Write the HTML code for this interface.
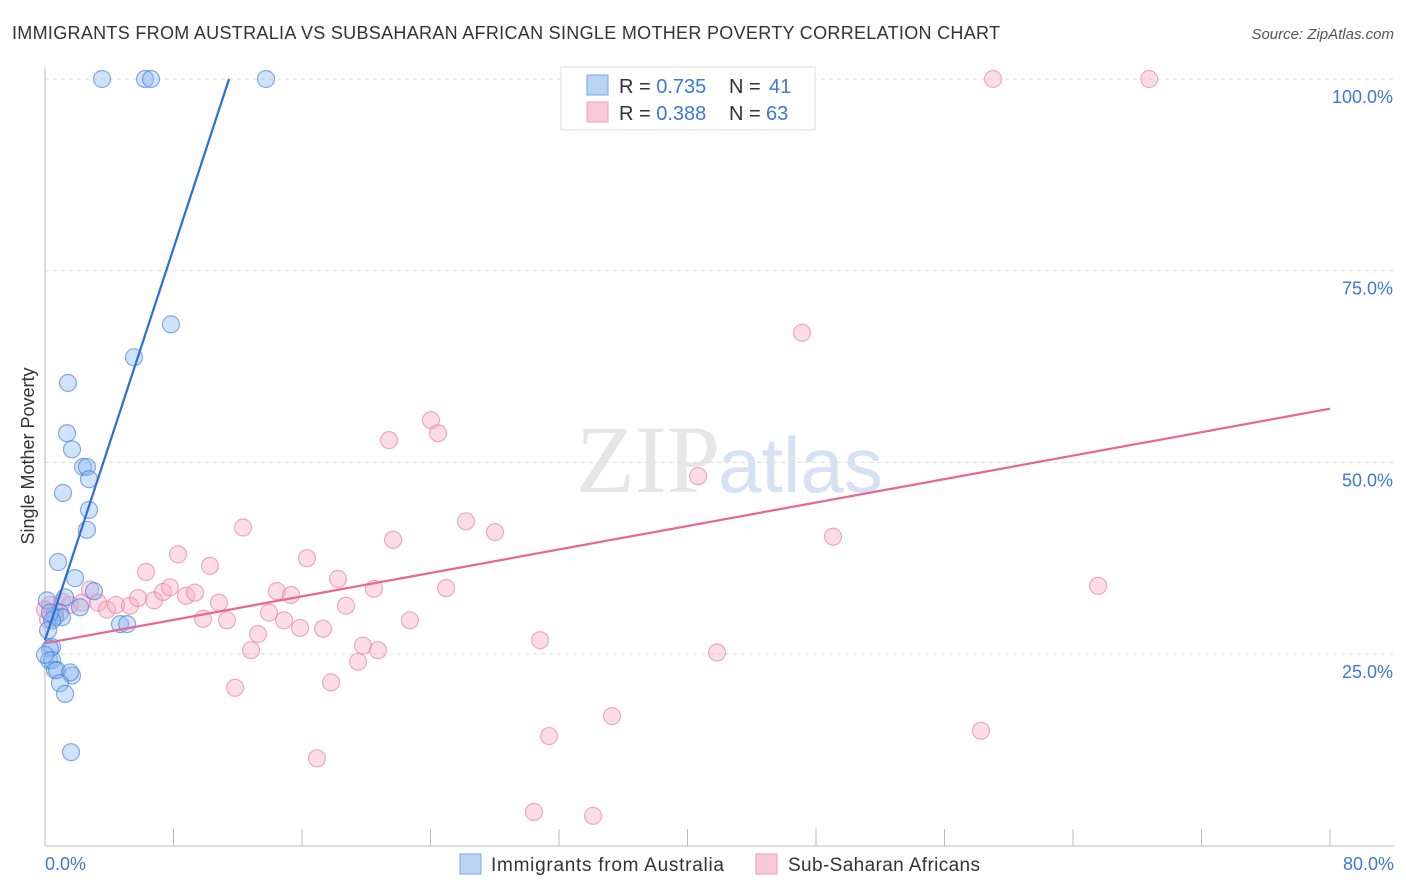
<!DOCTYPE html>
<html><head><meta charset="utf-8"><style>
body{margin:0;background:#fff;font-family:"Liberation Sans",sans-serif;}
svg{display:block}
</style></head><body>
<svg id="chart" width="1406" height="892" xmlns="http://www.w3.org/2000/svg">
<text x="12" y="39" font-size="18" fill="#333" textLength="988">IMMIGRANTS FROM AUSTRALIA VS SUBSAHARAN AFRICAN SINGLE MOTHER POVERTY CORRELATION CHART</text>
<text x="1394" y="39" font-size="15" fill="#555" font-style="italic" text-anchor="end">Source: ZipAtlas.com</text>
<text x="720" y="492" font-size="96" fill="#e6e6e6" text-anchor="end" font-family="Liberation Serif,serif">ZIP</text>
<text x="718" y="492" font-size="78" fill="#d6e2f3">atlas</text>
<g id="grid"></g>
<line x1="45" y1="68" x2="45" y2="846" stroke="#bbb"/>
<line x1="45" y1="846" x2="1394" y2="846" stroke="#bbb"/>
<text transform="translate(34,456) rotate(-90)" font-size="18" fill="#333" text-anchor="middle">Single Mother Poverty</text>
<text x="45" y="870" font-size="18" fill="#3d78d8">0.0%</text>
<text x="1394" y="870" font-size="18" fill="#3d78d8" text-anchor="end">80.0%</text>
<g id="pts"></g>
<g id="lines"></g>
<g>
<rect x="561" y="67" width="254" height="63" fill="#fff" stroke="#ddd"/>
<rect x="587" y="75" width="21" height="20" fill="#b9d3f5" stroke="#7aa6e6"/>
<rect x="587" y="102" width="21" height="20" fill="#fcc9d8" stroke="#f09ab5"/>
<text x="619" y="93" font-size="20" fill="#333">R = <tspan fill="#3d78d8">0.735</tspan></text>
<text x="729" y="93" font-size="20" fill="#333">N = <tspan fill="#3d78d8" x="769">41</tspan></text>
<text x="619" y="120" font-size="20" fill="#333">R = <tspan fill="#3d78d8">0.388</tspan></text>
<text x="729" y="120" font-size="20" fill="#333">N = <tspan fill="#3d78d8" x="766">63</tspan></text>
</g>
<g>
<rect x="460" y="854" width="21" height="20" fill="#b9d3f5" stroke="#7aa6e6"/>
<text x="491" y="871" font-size="19" fill="#333" textLength="233">Immigrants from Australia</text>
<rect x="756" y="854" width="21" height="20" fill="#fcc9d8" stroke="#f09ab5"/>
<text x="788" y="871" font-size="19" fill="#333" textLength="192">Sub-Saharan Africans</text>
</g>
</svg>
<script>
const yTicks=[25,50,75,100];
const yTickLabels=["25.0%","50.0%","75.0%","100.0%"];
const xTicks=[0,8,16,24,32,40,48,56,64,72,80];
const blueX=[3.55,6.23,6.60,13.76,7.84,5.54,1.43,1.37,1.68,2.37,2.61,2.74,1.12,2.74,2.61,0.81,1.87,3.05,1.25,2.18,0.93,0.62,1.06,0.44,0.19,0.44,0.31,0.25,0.44,0.62,0.75,1.68,1.56,0.93,1.25,1.62,4.67,5.11,0.12,0.31,0];
const blueY=[100,100,100,100,68.0,63.7,60.35,53.8,51.7,49.4,49.4,47.8,46.0,43.8,41.2,37.0,34.9,33.2,32.4,31.1,30.4,29.8,29.8,29.4,28.1,25.9,25.7,24.2,24.2,22.9,22.9,22.2,22.6,21.2,19.8,12.2,28.9,28.9,32.0,30.4,24.9];
const pinkX=[0.31,0,0.19,0.62,1.06,1.56,2.30,2.80,3.30,3.86,4.42,5.29,6.29,5.79,6.79,7.35,7.78,8.28,8.78,9.34,9.84,10.27,10.83,11.33,11.83,12.33,12.83,13.26,13.95,14.44,14.88,15.32,15.88,16.31,16.93,17.31,17.81,18.24,18.74,19.49,19.80,20.48,20.73,21.42,21.67,22.72,24.03,24.47,24.97,26.21,28.02,30.44,30.82,31.38,34.12,35.30,40.66,41.84,47.13,49.06,58.27,59.02,65.56,68.74];
const pinkY=[31.4,30.8,29.5,30.5,31.8,31.4,31.7,33.4,31.7,30.8,31.4,31.3,35.7,32.3,32.0,33.1,33.7,38.0,32.6,33.0,29.6,36.5,31.7,29.4,20.6,41.5,25.5,27.6,30.4,33.2,29.4,32.7,28.4,37.5,11.4,28.3,21.3,34.8,31.3,24.0,26.1,33.5,25.5,52.9,39.9,29.4,55.5,53.8,33.6,42.3,40.9,4.4,26.8,14.3,3.9,16.9,48.2,25.2,66.9,40.3,15.0,100,33.9,100];
const blueLine=[0,26.8,11.46,100];
const pinkLine=[0,26.4,80,57.0];
const X=v=>45+v*(1330-45)/80;
const Y=v=>845.7-v*7.667;
const NS="http://www.w3.org/2000/svg";
function mk(t,a,p){const e=document.createElementNS(NS,t);for(const k in a)e.setAttribute(k,a[k]);p.appendChild(e);return e;}
const grid=document.getElementById('grid');
yTicks.forEach((t,i)=>{
 const l=mk('line',{x1:45,x2:1394,y1:Y(t),y2:Y(t),stroke:'#ddd','stroke-dasharray':'4,4'},grid);
 
 
 const tx=mk('text',{x:1393,y:Y(t)+24,'font-size':18,fill:'#3d78d8','text-anchor':'end'},grid);
 tx.textContent=yTickLabels[i];
 
 
});
xTicks.forEach(t=>{
 const l=mk('line',{x1:X(t),x2:X(t),y1:829,y2:846,stroke:'#bbb'},grid);
 
 
});
const pts=document.getElementById('pts');
pinkX.forEach((x,i)=>{
 const c=mk('circle',{cx:X(x),cy:Y(pinkY[i]),r:8.5,fill:'rgba(248,170,195,0.4)',stroke:'rgba(232,120,160,0.6)','stroke-width':1.2},pts);
 
 
});
blueX.forEach((x,i)=>{
 const c=mk('circle',{cx:X(x),cy:Y(blueY[i]),r:8.5,fill:'rgba(140,185,240,0.4)',stroke:'rgba(60,120,215,0.6)','stroke-width':1.2},pts);
 
 
});
const lines=document.getElementById('lines');
const bl=mk('line',{x1:X(blueLine[0]),y1:Y(blueLine[1]),x2:X(blueLine[2]),y2:Y(blueLine[3]),stroke:'#2a6fd6','stroke-width':2.2},lines);


const pl=mk('line',{x1:X(pinkLine[0]),y1:Y(pinkLine[1]),x2:X(pinkLine[2]),y2:Y(pinkLine[3]),stroke:'#e8668f','stroke-width':2.2},lines);


</script>
</body></html>
